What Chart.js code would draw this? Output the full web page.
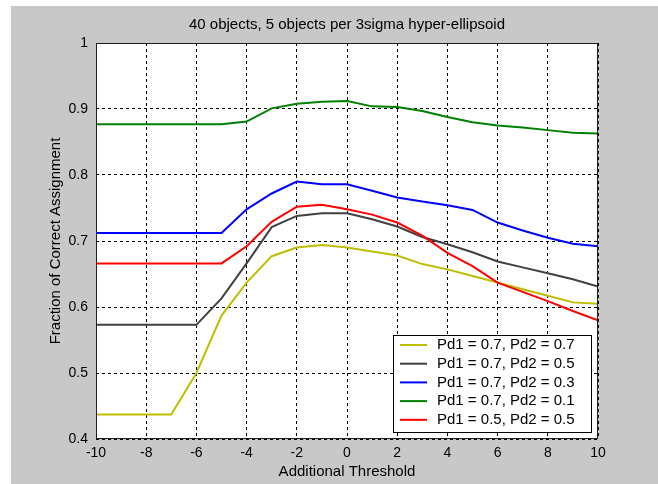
<!DOCTYPE html>
<html>
<head>
<meta charset="utf-8">
<script src="https://cdn.jsdelivr.net/npm/chart.js@4"></script>
<style>
  body { margin: 0; background: #fff; }
  #wrap { position: relative; width: 658px; height: 484px; }
  #bg { position: absolute; left: 11px; top: 6px; right: 0; bottom: 0; background: #c8c8c8; }
  #myChart { position: absolute; left: 0; top: 0; }
</style>
</head>
<body>
<div id="wrap">
  <div id="bg"></div>
  <canvas id="myChart" width="658" height="484"></canvas>
</div>
<script>
const titleText = '40 objects, 5 objects per 3sigma hyper-ellipsoid';
const xLabel = 'Additional Threshold';
const yLabel = 'Fraction of Correct Assignment';

const thresholds = [-10,-9,-8,-7,-6,-5,-4,-3,-2,-1,0,1,2,3,4,5,6,7,8,9,10];
const xTicks = [-10,-8,-6,-4,-2,0,2,4,6,8,10];
const xTickLabels = ['-10','-8','-6','-4','-2','0','2','4','6','8','10'];
const yTicks = [0.4,0.5,0.6,0.7,0.8,0.9,1];
const yTickLabels = ['0.4','0.5','0.6','0.7','0.8','0.9','1'];

const seriesNames = ['Pd1 = 0.7, Pd2 = 0.7','Pd1 = 0.7, Pd2 = 0.5','Pd1 = 0.7, Pd2 = 0.3','Pd1 = 0.7, Pd2 = 0.1','Pd1 = 0.5, Pd2 = 0.5'];
const seriesColors = ['#bebe00','#404040','#0000ff','#008000','#ff0000'];

const pd77 = [0.437,0.437,0.437,0.437,0.500,0.587,0.637,0.677,0.690,0.694,0.690,0.684,0.678,0.665,0.657,0.647,0.637,0.627,0.617,0.607,0.605];
const pd75 = [0.573,0.573,0.573,0.573,0.573,0.613,0.666,0.721,0.738,0.742,0.742,0.733,0.722,0.706,0.695,0.683,0.669,0.660,0.651,0.642,0.631];
const pd73 = [0.712,0.712,0.712,0.712,0.712,0.712,0.748,0.772,0.790,0.786,0.786,0.776,0.766,0.760,0.754,0.747,0.728,0.716,0.705,0.696,0.692];
const pd71 = [0.877,0.877,0.877,0.877,0.877,0.877,0.881,0.901,0.908,0.911,0.912,0.904,0.903,0.897,0.888,0.880,0.875,0.872,0.868,0.864,0.863];
const pd55 = [0.666,0.666,0.666,0.666,0.666,0.666,0.692,0.729,0.752,0.755,0.748,0.740,0.728,0.708,0.682,0.662,0.637,0.623,0.609,0.594,0.580];
const seriesValues = [pd77, pd75, pd73, pd71, pd55];

Chart.defaults.font.family = "'Liberation Sans', Arial, sans-serif";
Chart.defaults.color = '#000';

const plotBack = {
    id: 'plotBack',
    beforeDraw(chart) {
        const {ctx, chartArea: {left, top, width, height}} = chart;
        ctx.save();
        ctx.fillStyle = '#fff';
        ctx.fillRect(left, top, width, height);
        ctx.restore();
    }
};

// axes box + legend inside the plot, like matlab draws it
const boxAndLegend = {
    id: 'boxAndLegend',
    afterDatasetsDraw(chart) {
        const {ctx, chartArea: {left, top, right, bottom}} = chart;
        ctx.save();
        ctx.strokeStyle = '#202020';
        ctx.lineWidth = 1;
        ctx.strokeRect(left + 0.5, top + 0.5, right - left - 1, bottom - top - 1);

        const w = 198, h = 97;
        const bx = right - 7 - w, by = bottom - 7 - h;
        ctx.fillStyle = '#fff';
        ctx.fillRect(bx, by, w, h);
        ctx.strokeStyle = '#000';
        ctx.strokeRect(bx + 0.5, by + 0.5, w, h);
        ctx.font = "15px 'Liberation Sans', Arial, sans-serif";
        ctx.textBaseline = 'middle';
        ctx.textAlign = 'left';
        chart.data.datasets.forEach((ds, i) => {
            const ry = by + 10 + i * 18.7;
            ctx.strokeStyle = ds.borderColor;
            ctx.lineWidth = 2;
            ctx.beginPath();
            ctx.moveTo(bx + 7, ry);
            ctx.lineTo(bx + 34, ry);
            ctx.stroke();
            ctx.fillStyle = '#000';
            ctx.fillText(ds.label, bx + 44, ry);
        });
        ctx.restore();
    }
};

const config = {
    type: 'line',
    data: {
        datasets: seriesValues.map((vals, i) => ({
            label: seriesNames[i],
            data: thresholds.map((x, j) => ({x: x, y: vals[j]})),
            borderColor: seriesColors[i],
            borderWidth: 2,
            pointRadius: 0,
            tension: 0,
            order: seriesValues.length - i
        }))
    },
    options: {
        responsive: false,
        animation: false,
        devicePixelRatio: 1,
        layout: {padding: {left: 0, top: 0, right: 60, bottom: 0}},
        scales: {
            x: {
                type: 'linear',
                min: -10, max: 10,
                afterBuildTicks: (s) => { s.ticks = xTicks.map(v => ({value: v})); },
                afterFit: (s) => { s.height = 45; },
                ticks: {
                    font: {size: 14},
                    padding: 5.6,
                    maxRotation: 0,
                    callback: (v, i) => xTickLabels[i]
                },
                grid: {color: '#000', lineWidth: 1, drawTicks: false},
                border: {display: false, dash: [3, 3]},
                title: {display: true, text: xLabel, font: {size: 15}, padding: {top: 0, bottom: 3.3}}
            },
            y: {
                min: 0.4, max: 1,
                afterBuildTicks: (s) => { s.ticks = yTicks.map(v => ({value: v})); },
                afterFit: (s) => { s.width = 96; },
                ticks: {
                    font: {size: 14},
                    padding: 8,
                    callback: (v, i) => yTickLabels[i]
                },
                grid: {color: '#000', lineWidth: 1, drawTicks: false},
                border: {display: false, dash: [3, 3]},
                title: {display: true, text: yLabel, font: {size: 15}, padding: {top: 46.6, bottom: 0}}
            }
        },
        plugins: {
            legend: {display: false},
            tooltip: {enabled: false},
            title: {
                display: true,
                text: titleText,
                fullSize: false,
                font: {size: 15, weight: 'normal'},
                color: '#000',
                padding: {top: 16, bottom: 9}
            }
        }
    },
    plugins: [plotBack, boxAndLegend]
};

const myChart = new Chart(document.getElementById('myChart'), config);
</script>
</body>
</html>
